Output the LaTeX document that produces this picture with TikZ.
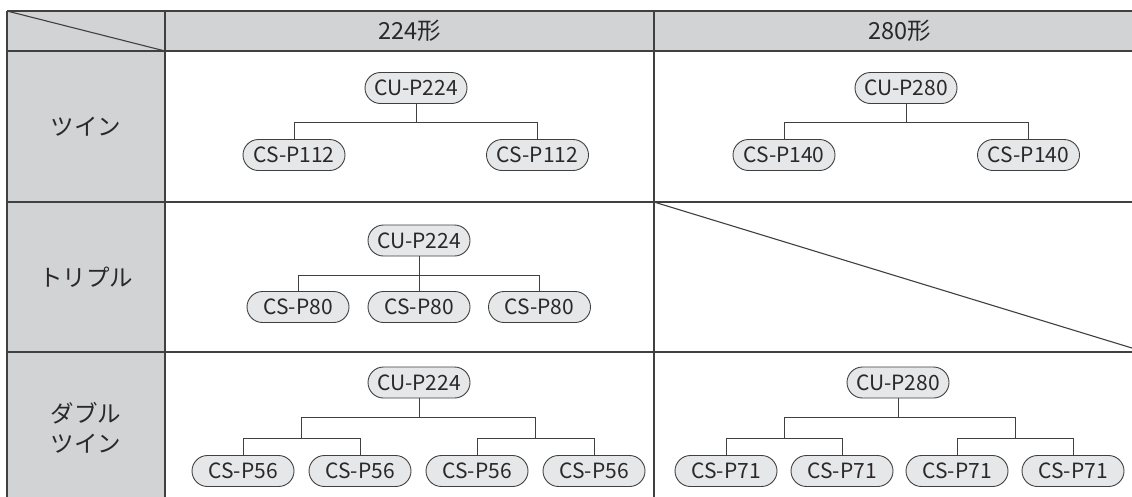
\documentclass[tikz,border=0pt]{standalone}
\usepackage{fontspec}
\setmainfont{Noto Sans CJK JP}
\usetikzlibrary{calc}
\definecolor{hdr}{HTML}{D1D3D4}
\definecolor{pillfill}{HTML}{E6E7E8}
\definecolor{ln}{HTML}{404040}
\definecolor{txt}{HTML}{2B2829}
\begin{document}
\begin{tikzpicture}[x=1pt,y=-1pt,
  gridline/.style={draw=ln,line width=1.1pt},
  hd/.style={inner sep=0pt,text=txt,font=\fontsize{23.5}{30}\selectfont},
  pill/.style={draw=ln,fill=pillfill,line width=0.9pt,rounded corners=15.5pt,
    minimum width=102pt,minimum height=31pt,inner sep=0pt,text=txt,
    font=\fontsize{21}{25}\selectfont},
  conn/.style={draw=ln,line width=1pt}]
\useasboundingbox (0,0) rectangle (1132,496);
\begin{scope}
\clip (0,0) rectangle (1132,496);
\fill[white] (0,0) rectangle (1132,496);
\fill[hdr] (7,11) rectangle (1145,51);
\fill[hdr] (7,51) rectangle (165,502);
\draw[gridline] (7,11) -- (1145,11);
\draw[gridline] (7,51) -- (1145,51);
\draw[gridline] (7,202) -- (1145,202);
\draw[gridline] (7,352) -- (1145,352);
\draw[gridline] (7,11) -- (7,502);
\draw[gridline] (165,11) -- (165,502);
\draw[gridline] (654,11) -- (654,502);
\draw[gridline] (7,11) -- (165,51);
\draw[gridline] (654,202) -- (1145,352);
\end{scope}

% headers
\node[hd] (h224) at (409.5,31) {224形};
\node[hd] (h280) at (899.5,31) {280形};
\node[hd] (r1) at (86,126.5) {ツイン};
\node[hd] (r2) at (86,277) {トリプル};
\node[hd,align=center] (r3) at (86,428) {ダブル\\ツイン};

% row 1, 224
\node[pill] (u1) at (416,88) {CU-P224};
\node[pill] (a1) at (294,155) {CS-P112};
\node[pill] (b1) at (537.5,155) {CS-P112};
\coordinate (k1) at ($(u1.south)+(0,19)$);
\draw[conn] (u1.south) -- (k1);
\draw[conn] (a1.north) |- (k1) -| (b1.north);

% row 1, 280
\node[pill] (u2) at (906,88) {CU-P280};
\node[pill] (a2) at (784,155) {CS-P140};
\node[pill] (b2) at (1028.5,155) {CS-P140};
\coordinate (k2) at ($(u2.south)+(0,19)$);
\draw[conn] (u2.south) -- (k2);
\draw[conn] (a2.north) |- (k2) -| (b2.north);

% row 2, 224
\node[pill] (u3) at (419,240.5) {CU-P224};
\node[pill] (a3) at (298,307) {CS-P80};
\node[pill] (b3) at (419,307) {CS-P80};
\node[pill] (c3) at (539.5,307) {CS-P80};
\coordinate (k3) at ($(u3.south)+(0,19)$);
\draw[conn] (u3.south) -- (b3.north);
\draw[conn] (a3.north) |- (k3) -| (c3.north);

% row 3, 224
\node[pill] (u4) at (419,382.5) {CU-P224};
\node[pill] (d4a) at (243,471) {CS-P56};
\node[pill] (d4b) at (360,471) {CS-P56};
\node[pill] (d4c) at (477,471) {CS-P56};
\node[pill] (d4d) at (594,471) {CS-P56};
\coordinate (s4L) at ($(d4a.north)!0.5!(d4b.north)+(0,-17)$);
\coordinate (s4R) at ($(d4c.north)!0.5!(d4d.north)+(0,-17)$);
\coordinate (k4) at ($(u4.south)+(0,19)$);
\draw[conn] (u4.south) -- (k4);
\draw[conn] (s4L) |- (k4) -| (s4R);
\draw[conn] (d4a.north) |- (s4L) -| (d4b.north);
\draw[conn] (d4c.north) |- (s4R) -| (d4d.north);

% row 3, 280
\node[pill] (u5) at (898,382.5) {CU-P280};
\node[pill] (d5a) at (726,471) {CS-P71};
\node[pill] (d5b) at (842,471) {CS-P71};
\node[pill] (d5c) at (957,471) {CS-P71};
\node[pill] (d5d) at (1073,471) {CS-P71};
\coordinate (s5L) at ($(d5a.north)!0.5!(d5b.north)+(0,-17)$);
\coordinate (s5R) at ($(d5c.north)!0.5!(d5d.north)+(0,-17)$);
\coordinate (k5) at ($(u5.south)+(0,19)$);
\draw[conn] (u5.south) -- (k5);
\draw[conn] (s5L) |- (k5) -| (s5R);
\draw[conn] (d5a.north) |- (s5L) -| (d5b.north);
\draw[conn] (d5c.north) |- (s5R) -| (d5d.north);
\end{tikzpicture}
\end{document}
